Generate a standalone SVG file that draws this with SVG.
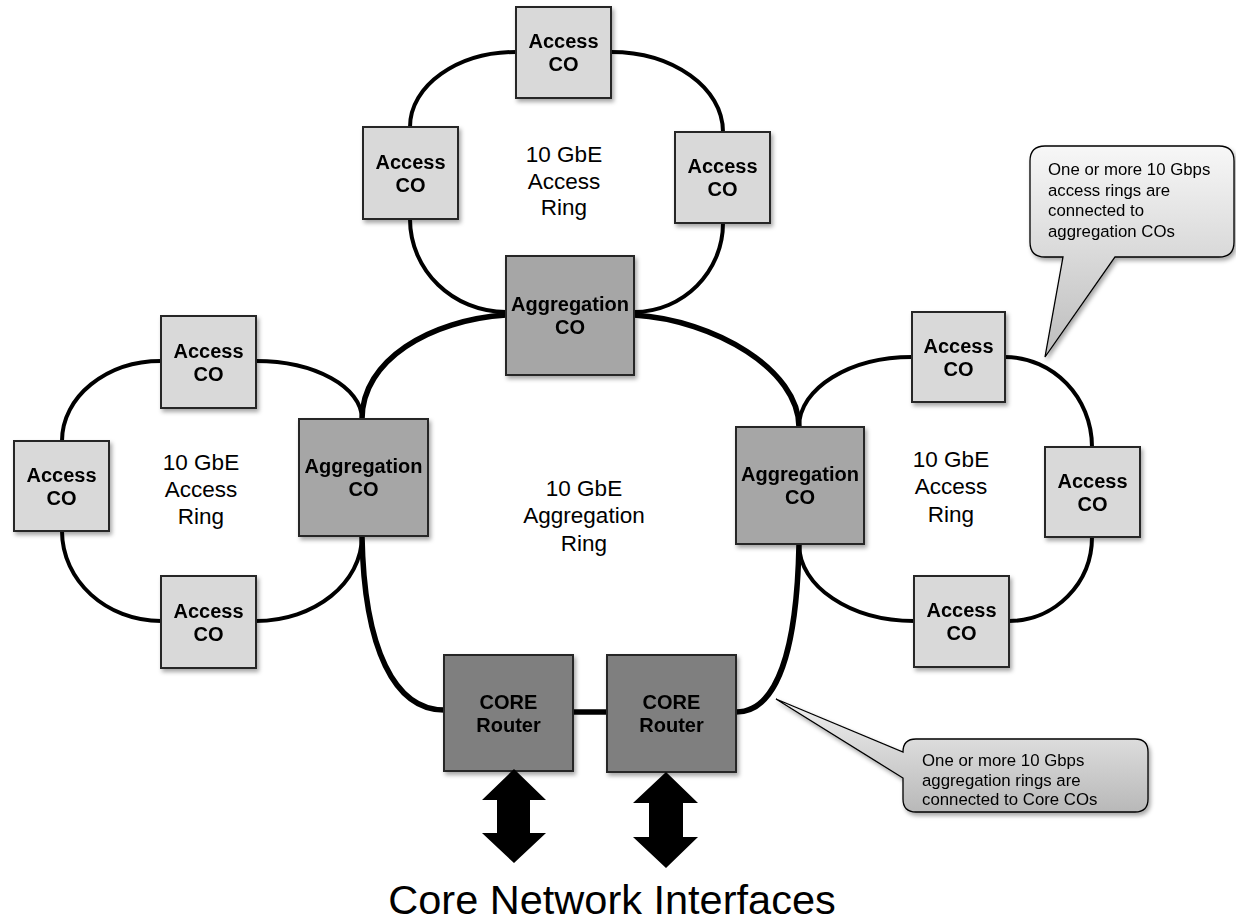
<svg xmlns="http://www.w3.org/2000/svg" width="1236" height="923" viewBox="0 0 1236 923">
<defs>
<filter id="sh" x="-10%" y="-10%" width="130%" height="130%">
<feDropShadow dx="2" dy="3" stdDeviation="2" flood-color="#000" flood-opacity="0.35"/>
</filter>
<linearGradient id="cg" x1="0" y1="0" x2="0" y2="1">
<stop offset="0" stop-color="#f7f7f7"/>
<stop offset="1" stop-color="#bdbdbd"/>
</linearGradient>
<linearGradient id="cg2" x1="0" y1="0" x2="0" y2="1">
<stop offset="0" stop-color="#f0f0f0"/>
<stop offset="1" stop-color="#b8b8b8"/>
</linearGradient>
<style>
.acc{fill:#d9d9d9;stroke:#262626;stroke-width:2}
.agg{fill:#a6a6a6;stroke:#262626;stroke-width:2}
.core{fill:#7f7f7f;stroke:#262626;stroke-width:2}
.nl{font-family:"Liberation Sans",Arial,sans-serif;font-weight:bold;font-size:20px;fill:#000;text-anchor:middle}
.rl{font-family:"Liberation Sans",Arial,sans-serif;font-size:22.5px;fill:#000;text-anchor:middle}
.ct{font-family:"Liberation Sans",Arial,sans-serif;font-size:16.8px;fill:#000}
.ar{fill:none;stroke:#000;stroke-width:4}
.ag{fill:none;stroke:#000;stroke-width:5.5}
.callout{stroke:#000;stroke-width:1.3}
</style>
</defs>
<rect width="1236" height="923" fill="#fff"/>

<g id="connectors">
<!-- top access ring -->
<path class="ar" d="M516,52 C457.5,52 410,85.6 410,127"/>
<path class="ar" d="M410,219 C410,270.4 452.9,312 506,312"/>
<path class="ar" d="M611,52 C672.9,52 723,87.8 723,132"/>
<path class="ar" d="M723,223 C723,272 683,312 634,312"/>
<!-- left access ring -->
<path class="ar" d="M161,361 C106.3,361 62,396.8 62,441"/>
<path class="ar" d="M62,531 C62,580.7 106.3,621 161,621"/>
<path class="ar" d="M256,621 C314.5,621 362,583 362,536"/>
<path class="ar" d="M256,361 C314.5,361 362,387 362,419"/>
<!-- right access ring -->
<path class="ar" d="M912,357 C849.6,357 799,388.3 799,427"/>
<path class="ar" d="M1005,357 C1053,357 1092,397.3 1092,447"/>
<path class="ar" d="M1092,537 C1092,583.4 1054.8,621 1009,621"/>
<path class="ar" d="M914,621 C850.5,621 799,586.5 799,544"/>
<!-- aggregation ring -->
<path class="ag" d="M506,315 C430,320 362,360 362,419"/>
<path class="ag" d="M634,315 C715,320 799,370 799,427"/>
<path class="ag" d="M362,536 C364,650 395,710 444,710"/>
<path class="ag" d="M799,544 C797,650 777,712 736,712"/>
<path class="ag" d="M573,712 H607"/>
</g>

<g id="ta1" filter="url(#sh)"><rect class="acc" x="516" y="7" width="95" height="91"/><text class="nl" x="563.5" y="48">Access</text><text class="nl" x="563.5" y="71">CO</text></g>
<g id="ta2" filter="url(#sh)"><rect class="acc" x="363" y="127" width="95" height="92"/><text class="nl" x="410.5" y="168.5">Access</text><text class="nl" x="410.5" y="191.5">CO</text></g>
<g id="ta3" filter="url(#sh)"><rect class="acc" x="675" y="132" width="95" height="91"/><text class="nl" x="722.5" y="173">Access</text><text class="nl" x="722.5" y="196">CO</text></g>
<g id="agtop" filter="url(#sh)"><rect class="agg" x="506" y="256" width="128" height="119"/><text class="nl" x="570" y="311">Aggregation</text><text class="nl" x="570" y="334">CO</text></g>

<g id="la1" filter="url(#sh)"><rect class="acc" x="161" y="316" width="95" height="92"/><text class="nl" x="208.5" y="357.5">Access</text><text class="nl" x="208.5" y="380.5">CO</text></g>
<g id="la2" filter="url(#sh)"><rect class="acc" x="14" y="441" width="95" height="90"/><text class="nl" x="61.5" y="481.5">Access</text><text class="nl" x="61.5" y="504.5">CO</text></g>
<g id="la3" filter="url(#sh)"><rect class="acc" x="161" y="576" width="95" height="92"/><text class="nl" x="208.5" y="617.5">Access</text><text class="nl" x="208.5" y="640.5">CO</text></g>
<g id="agleft" filter="url(#sh)"><rect class="agg" x="299" y="419" width="129" height="117"/><text class="nl" x="363.5" y="473">Aggregation</text><text class="nl" x="363.5" y="496">CO</text></g>

<g id="ra1" filter="url(#sh)"><rect class="acc" x="912" y="312" width="93" height="90"/><text class="nl" x="958.5" y="352.5">Access</text><text class="nl" x="958.5" y="375.5">CO</text></g>
<g id="ra2" filter="url(#sh)"><rect class="acc" x="1045" y="447" width="95" height="90"/><text class="nl" x="1092.5" y="487.5">Access</text><text class="nl" x="1092.5" y="510.5">CO</text></g>
<g id="ra3" filter="url(#sh)"><rect class="acc" x="914" y="576" width="95" height="91"/><text class="nl" x="961.5" y="617">Access</text><text class="nl" x="961.5" y="640">CO</text></g>
<g id="agright" filter="url(#sh)"><rect class="agg" x="736" y="427" width="128" height="117"/><text class="nl" x="800" y="481">Aggregation</text><text class="nl" x="800" y="504">CO</text></g>

<g id="core1" filter="url(#sh)"><rect class="core" x="444" y="655" width="129" height="116"/><text class="nl" x="508.5" y="708.5">CORE</text><text class="nl" x="508.5" y="731.5">Router</text></g>
<g id="core2" filter="url(#sh)"><rect class="core" x="607" y="655" width="129" height="117"/><text class="nl" x="671.5" y="709">CORE</text><text class="nl" x="671.5" y="732">Router</text></g>

<g id="ringlabels">
<text class="rl" x="564" y="162">10 GbE</text><text class="rl" x="564" y="189">Access</text><text class="rl" x="564" y="215">Ring</text>
<text class="rl" x="201" y="470">10 GbE</text><text class="rl" x="201" y="497">Access</text><text class="rl" x="201" y="524">Ring</text>
<text class="rl" x="951" y="467">10 GbE</text><text class="rl" x="951" y="494">Access</text><text class="rl" x="951" y="522">Ring</text>
<text class="rl" x="584" y="496">10 GbE</text><text class="rl" x="584" y="523">Aggregation</text><text class="rl" x="584" y="551">Ring</text>
</g>

<g id="arrows" fill="#000">
<polygon points="514,769 546,800 530,800 530,833 546,833 514,863 482,833 497,833 497,800 482,800"/>
<polygon points="666,772 698,803 683,803 683,837 698,837 666,868 633,837 649,837 649,803 633,803"/>
</g>

<g id="callout1" filter="url(#sh)">
<path class="callout" fill="url(#cg)" d="M1045,146 H1219 Q1234,146 1234,161 V242 Q1234,257 1219,257 H1115 L1045,357 L1063,257 H1045 Q1030,257 1030,242 V161 Q1030,146 1045,146 Z"/>
<text class="ct" x="1048" y="175">One or more 10 Gbps</text>
<text class="ct" x="1048" y="195.5">access rings are</text>
<text class="ct" x="1048" y="216">connected to</text>
<text class="ct" x="1048" y="237">aggregation COs</text>
</g>

<g id="callout2" filter="url(#sh)">
<path class="callout" fill="url(#cg2)" d="M916,739 H1135 Q1148,739 1148,752 V799 Q1148,812 1135,812 H916 Q903,812 903,799 V778 L776,699 L903,752 Q903,739 916,739 Z"/>
<text class="ct" x="922" y="766">One or more 10 Gbps</text>
<text class="ct" x="922" y="785.5">aggregation rings are</text>
<text class="ct" x="922" y="805">connected to Core COs</text>
</g>

<text id="title" x="612" y="914" font-family="Liberation Sans, Arial, sans-serif" font-size="41.5" text-anchor="middle" fill="#000">Core Network Interfaces</text>
</svg>
